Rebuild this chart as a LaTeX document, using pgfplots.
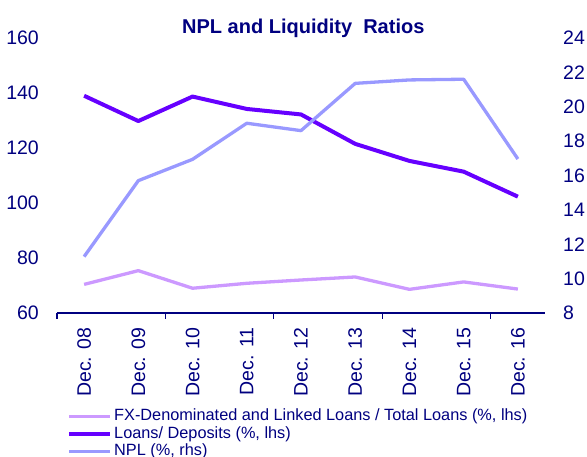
\documentclass[border=0pt]{standalone}
\usepackage{pgfplots}
\pgfplotsset{compat=1.18}
\usepackage{fontspec}
\setmainfont{Liberation Sans}
\definecolor{navy}{HTML}{000080}
\definecolor{ldcol}{HTML}{6600FF}
\definecolor{nplcol}{HTML}{9999FF}
\definecolor{fxcol}{HTML}{CC99FF}
\begin{document}
\begin{tikzpicture}[x=1pt,y=1pt]
\path[use as bounding box] (0,0) rectangle (587,457);
\begin{axis}[
  at={(57pt,144pt)}, anchor=south west, scale only axis,
  width=488pt, height=275pt,
  xmin=-0.5, xmax=8.5, ymin=60, ymax=160,
  axis x line*=bottom, axis y line*=left,
  x axis line style={navy, line width=1.1pt, -},
  y axis line style={draw=none},
  xtick={0,...,8},
  xticklabels={Dec. 08,Dec. 09,Dec. 10,Dec. 11,Dec. 12,Dec. 13,Dec. 14,Dec. 15,Dec. 16},
  minor xtick={-0.5,1.5,3.5,5.5,7.5},
  major tick length=0pt, minor tick length=6pt, tick align=outside,
  tick style={navy, line width=1.1pt},
  ytick={60,80,...,160},
  xticklabel style={rotate=90, anchor=east, inner sep=0pt, font=\fontsize{19.5}{20}\selectfont, text=navy},
  xticklabel shift=14.5pt,
  yticklabel style={anchor=east, inner sep=0pt, font=\fontsize{19.5}{20}\selectfont, text=navy},
  yticklabel shift=18pt,
  /pgf/number format/assume math mode=true,
  clip=false,
  legend image code/.code={\draw[#1] (0pt,0pt) -- (40.5pt,0pt);},
  legend style={at={(axis description cs:0.0215,-0.3484)}, anchor=north west,
    draw=none, fill=none, inner sep=0pt, outer sep=0pt,
    font=\fontsize{16.3}{18}\selectfont, text=navy,
    row sep=1.2pt, column sep=2.2pt,
    nodes={inner sep=0pt, text height=12pt, text depth=4pt}},
  legend cell align=left,
]
\addplot[fxcol, line width=3.3pt, line join=round] coordinates {
  (0,70.4) (1,75.4) (2,69.0) (3,70.8) (4,72.0) (5,73.1) (6,68.6) (7,71.3) (8,68.7)};
\addlegendentry{FX-Denominated and Linked Loans / Total Loans (\%, lhs)}
\addplot[ldcol, line width=4pt, line join=round] coordinates {
  (0,139.0) (1,129.8) (2,138.7) (3,134.2) (4,132.2) (5,121.5) (6,115.3) (7,111.4) (8,102.3)};
\addlegendentry{Loans/ Deposits (\%, lhs)}
\addlegendimage{nplcol, line width=3.3pt}
\addlegendentry{NPL (\%, rhs)}
\end{axis}
\begin{axis}[
  at={(57pt,144pt)}, anchor=south west, scale only axis,
  width=488pt, height=275pt,
  xmin=-0.5, xmax=8.5, ymin=8, ymax=24,
  axis x line=none, axis y line*=right,
  y axis line style={draw=none},
  ytick={8,10,...,24},
  major tick length=0pt,
  yticklabel style={anchor=west, inner sep=0pt, font=\fontsize{19.5}{20}\selectfont, text=navy},
  yticklabel shift=18pt,
  /pgf/number format/assume math mode=true,
  clip=false,
]
\addplot[nplcol, line width=3.3pt, line join=round] coordinates {
  (0,11.28) (1,15.70) (2,16.94) (3,19.04) (4,18.61) (5,21.36) (6,21.56) (7,21.6) (8,16.96)};
\end{axis}
\node[anchor=base, font=\fontsize{20}{22}\selectfont\bfseries, text=navy, inner sep=0pt] at (303.3,423.7) {NPL and Liquidity\ \ Ratios};
\end{tikzpicture}
\end{document}
